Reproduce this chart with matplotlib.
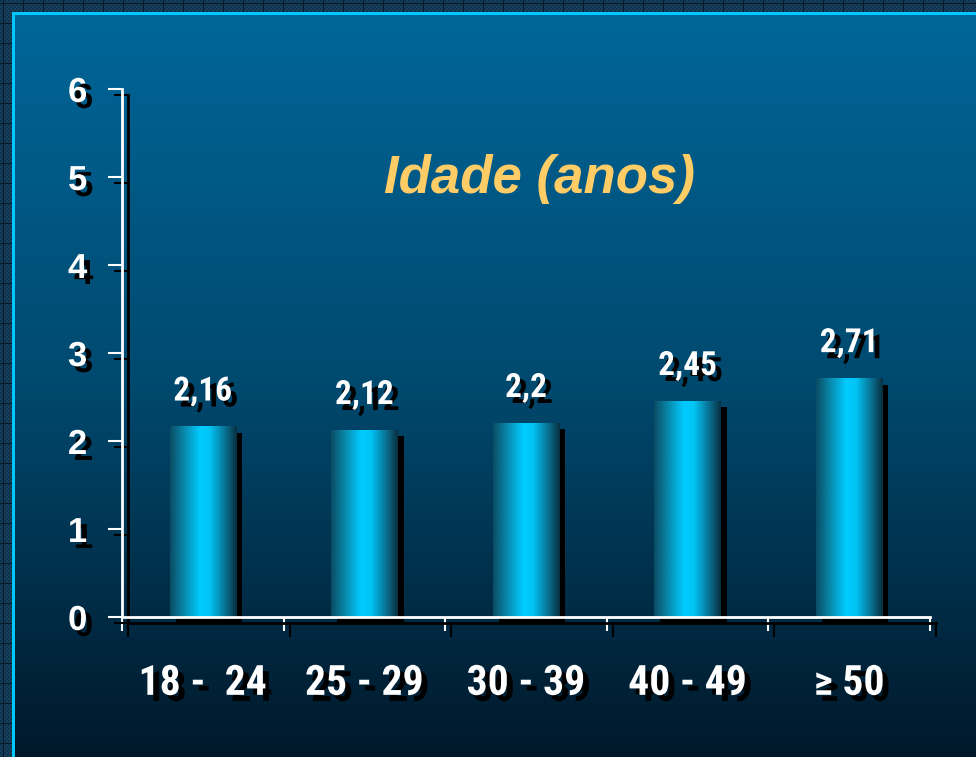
import os
import numpy as np
import matplotlib
matplotlib.use("Agg")
import matplotlib.pyplot as plt
import matplotlib.patheffects as pe
from matplotlib.colors import LinearSegmentedColormap, to_rgb
from matplotlib.transforms import ScaledTranslation
from matplotlib import font_manager
from matplotlib.font_manager import FontProperties

# ---------------- data ----------------
categories = ["18 -  24", "25 - 29", "30 - 39", "40 - 49", "\u2265 50"]
values = [2.16, 2.12, 2.2, 2.45, 2.71]
value_labels = ["2,16", "2,12", "2,2", "2,45", "2,71"]
yticks = [0, 1, 2, 3, 4, 5, 6]
title = "Idade (anos)"

# ---------------- fonts ----------------
files = {os.path.basename(f.fname): f.fname for f in font_manager.fontManager.ttflist}


def pick(cands):
    for c in cands:
        if c in files:
            return files[c]
    return None


narrow_file = pick(["LiberationSansNarrow-Bold.ttf", "RobotoCondensed-Bold.ttf",
                    "PT_Sans-Narrow-Web-Bold.ttf", "PTSansNarrow-Bold.ttf",
                    "PragatiNarrow-Bold.ttf", "EncodeSansCondensed-Bold.ttf",
                    "DejaVuSansCondensed-Bold.ttf"])
bold_file = pick(["LiberationSans-Bold.ttf", "Arimo-Bold.ttf"])


def nfont(size):
    if narrow_file:
        return FontProperties(fname=narrow_file, size=size)
    return FontProperties(family=["Liberation Sans", "DejaVu Sans"], weight="bold",
                          size=size * 0.85)


def bfont(size):
    if bold_file:
        return FontProperties(fname=bold_file, size=size)
    return FontProperties(family=["Liberation Sans", "DejaVu Sans"], weight="bold", size=size)


W, H, DPI = 976, 757, 100
fig = plt.figure(figsize=(W / DPI, H / DPI), dpi=DPI)

# ---------------- background ----------------
img = np.zeros((H, W, 3))
base = np.array(to_rgb("#143f5d"))
img[:, :] = base
yy, xx = np.mgrid[0:H, 0:W]
check = ((xx // 2 + yy // 2) % 2 == 0)
img[check] = base * 0.8
grid = (xx % 20 == 3) | (yy % 20 == 3)
img[grid] = np.array(to_rgb("#06182a"))
img[12:, 12:15] = to_rgb("#00c8ff")
img[12:15, 12:] = to_rgb("#00c8ff")
top = np.array(to_rgb("#006699"))
mid = np.array(to_rgb("#00496e"))
bot = np.array(to_rgb("#00182a"))
ny = H - 15
t = np.linspace(0, 1, ny)[:, None]
grad = np.where(t < 0.5, top + (mid - top) * (t / 0.5), mid + (bot - mid) * ((t - 0.5) / 0.5))
img[15:, 15:] = grad[:, None, :]
bg = fig.add_axes([0, 0, 1, 1], zorder=-10)
bg.imshow(img, aspect="auto", interpolation="nearest")
bg.axis("off")

# ---------------- main axes ----------------
x0, x1 = 122, 930
yb, yt = 617, 89
ax = fig.add_axes([x0 / W, (H - yb) / H, (x1 - x0) / W, (yb - yt) / H])
ax.patch.set_alpha(0)
ax.set_xlim(0, len(categories))
ax.set_ylim(0, 6)

shadow_tr = ScaledTranslation(6 / DPI, -6 / DPI, fig.dpi_scale_trans)
sh_off = (6 * 72 / DPI, -6 * 72 / DPI)
txt_fx = [pe.withSimplePatchShadow(offset=sh_off, shadow_rgbFace="black", alpha=1.0)]
line_fx = [pe.SimpleLineShadow(offset=sh_off, shadow_color="black", alpha=1.0), pe.Normal()]

centers = np.arange(len(categories)) + 0.5
bw = 0.41

cmap = LinearSegmentedColormap.from_list(
    "cyl", [(0, "#0a4c64"), (0.2, "#0a86a8"), (0.45, "#00ccff"), (0.6, "#00c4f4"),
            (0.85, "#0a6888"), (1.0, "#083040")])
gx = np.linspace(0, 1, 200)[None, :]

for c, v, lab in zip(centers, values, value_labels):
    ax.bar(c, v, bw, color="black", transform=ax.transData + shadow_tr,
           zorder=2, clip_on=False)
    ax.imshow(gx, extent=[c - bw / 2, c + bw / 2, 0, v], aspect="auto",
              cmap=cmap, zorder=3, interpolation="bicubic")
    ax.annotate(lab, (c, v), xytext=(0, 19), textcoords="offset points",
                ha="center", va="baseline", color="white",
                fontproperties=nfont(24), path_effects=txt_fx, zorder=5)

ax.set_xlim(0, len(categories))
ax.set_ylim(0, 6)

for s in ["top", "right"]:
    ax.spines[s].set_visible(False)
for s in ["left", "bottom"]:
    ax.spines[s].set_color("white")
    ax.spines[s].set_linewidth(2)
    ax.spines[s].set_path_effects(line_fx)
    ax.spines[s].set_zorder(4)

ax.set_xticks(np.arange(len(categories) + 1))
ax.set_xticklabels([""] * (len(categories) + 1))
ax.set_xticks(centers, minor=True)
xl = ax.set_xticklabels(categories, minor=True, color="white",
                        fontproperties=nfont(30))
ax.set_yticks(yticks)
yl = ax.set_yticklabels([str(v) for v in yticks], color="white",
                        fontproperties=bfont(25))
ax.tick_params(which="major", length=10, width=1.5, color="white", direction="out")
ax.tick_params(axis="y", which="major", pad=15)
ax.tick_params(axis="x", which="minor", length=0, pad=33)
for t_ in xl + yl:
    t_.set_path_effects(txt_fx)
for tk in ax.xaxis.get_major_ticks() + ax.yaxis.get_major_ticks():
    tk.tick1line.set_path_effects(line_fx)

ax.text(0.517, 0.803, title, transform=ax.transAxes, ha="center", va="baseline",
        color="#ffcc66", fontsize=38, fontweight="bold", fontstyle="italic",
        family=["Liberation Sans", "DejaVu Sans"])

fig.savefig("out.png", dpi=DPI)
